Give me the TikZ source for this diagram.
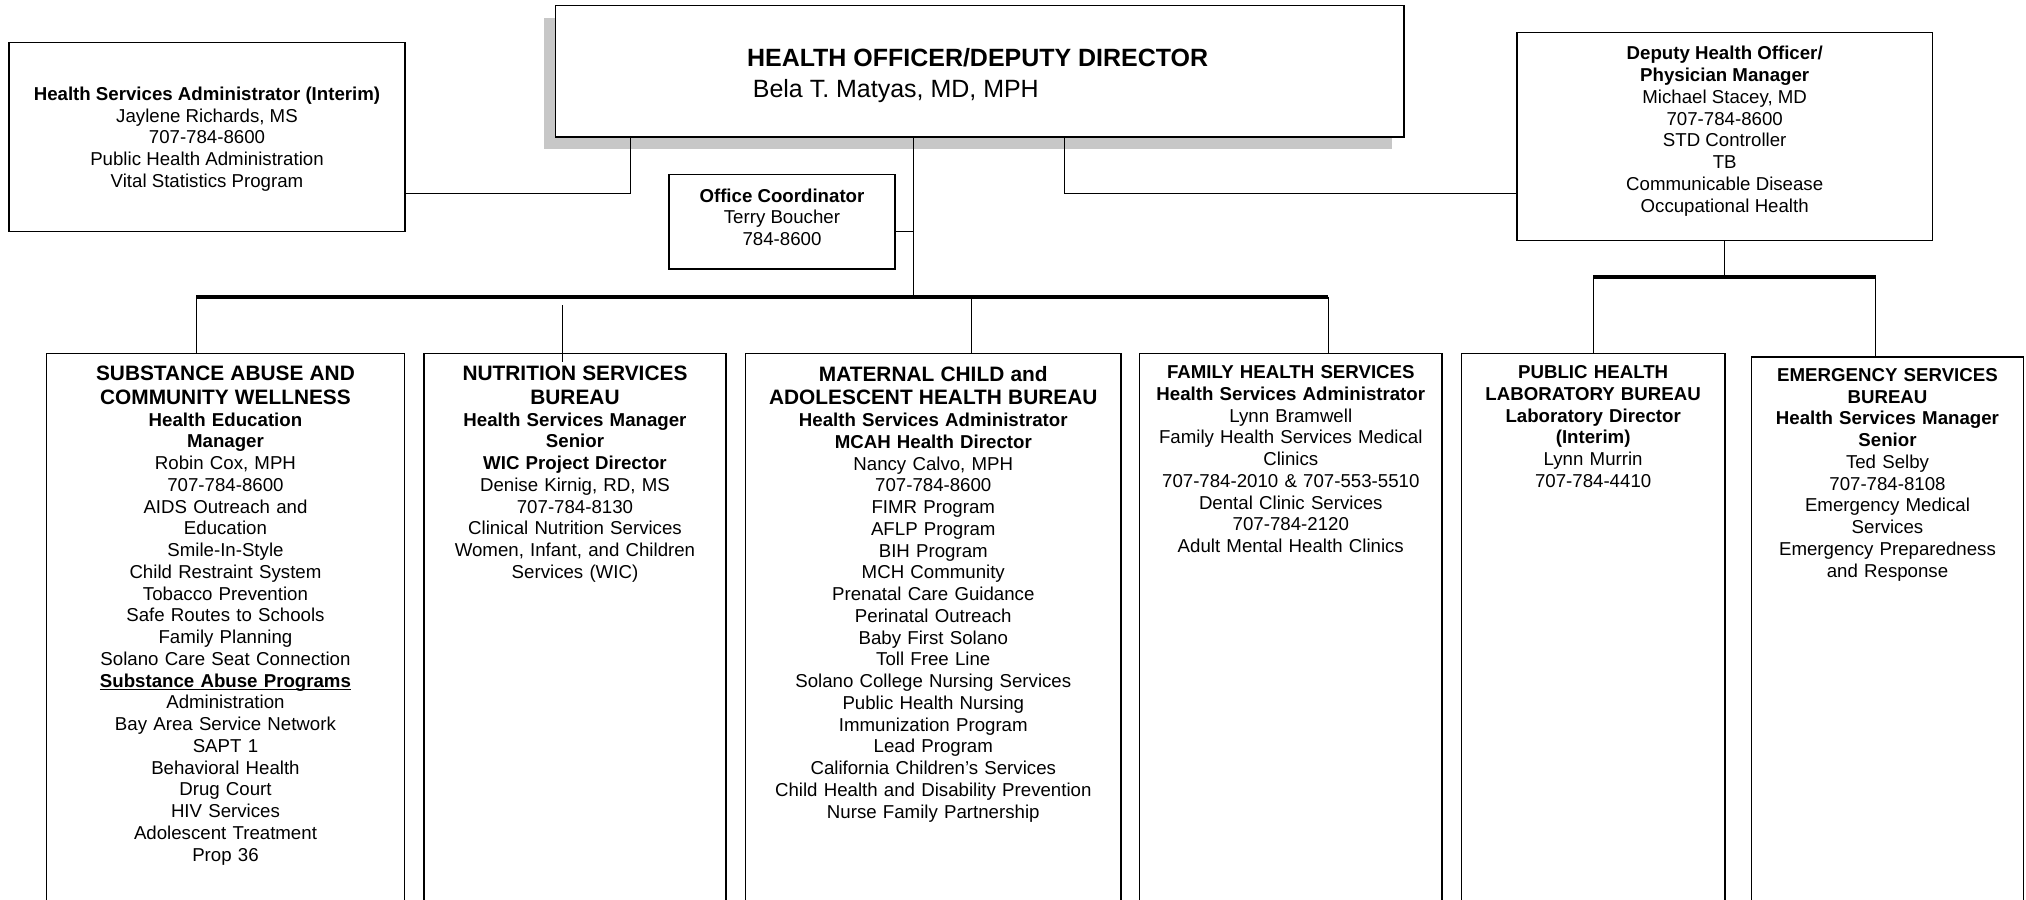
\documentclass[tikz,border=0pt]{standalone}
\usepackage{fontspec}
\setmainfont{Liberation Sans}
\usetikzlibrary{positioning}
\usetikzlibrary{calc}
\usetikzlibrary{shadows}
\tikzset{box/.style={draw, line width=1.2bp, fill=white, inner sep=0pt},
  txt/.style={anchor=north, inner sep=0pt, align=center},
  link/.style={line width=0.9bp},
  trunk/.style={line width=3bp}}
\newcommand{\bdfont}{\fontsize{14.5}{16.9}\selectfont}
\newcommand{\hdfont}{\fontsize{16.2}{18.3}\selectfont\bfseries}
\newsavebox{\ulsbox}
\newcommand{\ulbar}[1]{\leavevmode\sbox{\ulsbox}{#1}\rlap{\rule[-2.6pt]{\wd\ulsbox}{1.3pt}}\usebox{\ulsbox}}
\begin{document}
\begin{tikzpicture}[line join=miter,font=\bdfont]
%%
\useasboundingbox (0bp,0bp) rectangle (1568bp,696bp);
\clip (0bp,0bp) rectangle (1568bp,696bp);
\fill[white] (0bp,0bp) rectangle (1568bp,696bp);
%% upper boxes
  \node (hod) at (758.3bp,640.8bp) [box, minimum width=656.6bp, minimum height=101.6bp, drop shadow={shadow xshift=-9.3bp, shadow yshift=-9.3bp, fill=black!22, opacity=1}] {};
  \node (hsa) at (160.2bp,590bp) [box, minimum width=306.8bp, minimum height=146bp] {};
  \node (oc) at (605.2bp,524.5bp) [box, minimum width=175.1bp, minimum height=73bp] {};
  \node (dep) at (1334.8bp,590.5bp) [box, minimum width=321.6bp, minimum height=161bp] {};
  \node (hod-t) at (578bp,659bp) [anchor=north west, inner sep=0pt, align=left, font=\fontsize{19.4}{24.5}\selectfont] {\textbf{HEALTH OFFICER/DEPUTY DIRECTOR}\\\hspace*{4.5bp}Bela T. Matyas, MD, MPH};
  \node (hsa-t) at (160.2bp,629bp) [txt] {\textbf{Health Services Administrator (Interim)}\\Jaylene Richards, MS\\707-784-8600\\Public Health Administration\\Vital Statistics Program};
  \node (oc-t) at (605.2bp,550.2bp) [txt] {\textbf{Office Coordinator}\\Terry Boucher\\784-8600};
  \node (dep-t) at (1334.8bp,660.4bp) [txt] {\textbf{Deputy Health Officer/}\\\textbf{Physician Manager}\\Michael Stacey, MD\\707-784-8600\\STD Controller\\TB\\Communicable Disease\\Occupational Health};
%% bureaus
  \node (sacw) at (174.5bp,423bp) [box, anchor=north, minimum width=277bp, minimum height=440bp] {};
  \node (nsb) at (445bp,423bp) [box, anchor=north, minimum width=234bp, minimum height=440bp] {};
  \node (mcah) at (722.3bp,423bp) [box, anchor=north, minimum width=290.6bp, minimum height=440bp] {};
  \node (fhs) at (999bp,423bp) [box, anchor=north, minimum width=234bp, minimum height=440bp] {};
  \node (phl) at (1233bp,423bp) [box, anchor=north, minimum width=204bp, minimum height=440bp] {};
  \node (ems) at (1460.8bp,420.5bp) [box, anchor=north, minimum width=210.4bp, minimum height=440bp] {};
  \node (sacw-t) at (174.5bp,412.8bp) [txt, text width=267bp] {{\hdfont SUBSTANCE ABUSE AND\\COMMUNITY WELLNESS\par}\textbf{Health Education\\Manager}\\Robin Cox, MPH\\707-784-8600\\AIDS Outreach and\\Education\\Smile-In-Style\\Child Restraint System\\Tobacco Prevention\\Safe Routes to Schools\\Family Planning\\Solano Care Seat Connection\\\ulbar{\textbf{Substance Abuse Programs}}\\Administration\\Bay Area Service Network\\SAPT 1\\Behavioral Health\\Drug Court\\HIV Services\\Adolescent Treatment\\Prop 36};
  \node (nsb-t) at (445bp,412.8bp) [txt, text width=226bp] {{\hdfont NUTRITION SERVICES\\BUREAU\par}\textbf{Health Services Manager\\Senior\\WIC Project Director}\\Denise Kirnig, RD, MS\\707-784-8130\\Clinical Nutrition Services\\Women, Infant, and Children\\Services (WIC)};
  \node (mcah-t) at (722.3bp,412.8bp) [txt, text width=282bp] {{\hdfont MATERNAL CHILD and\\ADOLESCENT HEALTH BUREAU\par}\textbf{Health Services Administrator\\MCAH Health Director}\\Nancy Calvo, MPH\\707-784-8600\\FIMR Program\\AFLP Program\\BIH Program\\MCH Community\\Prenatal Care Guidance\\Perinatal Outreach\\Baby First Solano\\Toll Free Line\\Solano College Nursing Services\\Public Health Nursing\\Immunization Program\\Lead Program\\California Children’s Services\\Child Health and Disability Prevention\\Nurse Family Partnership};
  \node (fhs-t) at (999bp,413.2bp) [txt, text width=228bp] {\textbf{FAMILY HEALTH SERVICES\\Health Services Administrator}\\Lynn Bramwell\\Family Health Services Medical\\Clinics\\707-784-2010 \& 707-553-5510\\Dental Clinic Services\\707-784-2120\\Adult Mental Health Clinics};
  \node (phl-t) at (1233bp,413.2bp) [txt, text width=198bp] {\textbf{PUBLIC HEALTH\\LABORATORY BUREAU\\Laboratory Director\\(Interim)}\\Lynn Murrin\\707-784-4410};
  \node (ems-t) at (1460.8bp,411.2bp) [txt, text width=204bp] {\textbf{EMERGENCY SERVICES\\BUREAU\\Health Services Manager\\Senior}\\Ted Selby\\707-784-8108\\Emergency Medical\\Services\\Emergency Preparedness\\and Response};
%% connectors
  \coordinate (hsaj) at (487.8bp,546.4bp);
  \coordinate (depj) at (824bp,546.4bp);
  \coordinate (ocj) at (707bp,517bp);
  \draw [link] (hsa.east |- hsaj) -- (hsaj) -- (hsaj |- hod.south);
  \draw [link] (hod.south -| depj) -- (depj) -- (dep.west |- depj);
  \coordinate (b1) at (152bp,466.4bp);
  \coordinate (b2) at (435.5bp,466.4bp);
  \coordinate (b3) at (707bp,466.4bp);
  \coordinate (b4) at (751.7bp,466.4bp);
  \coordinate (b5) at (1028bp,466.4bp);
  \draw [link] (hod.south -| b3) -- (b3);
  \draw [link] (oc.east |- ocj) -- (ocj);
  \draw [trunk] (b1) -- (b5);
  \draw [link] (b1) -- (b1 |- sacw.north);
  \draw [link] ($(b2)+(0,-6.5bp)$) -- ($(b2 |- nsb.north)+(0,-7bp)$);
  \draw [link] (b4) -- (b4 |- mcah.north);
  \draw [link] (b5) -- (b5 |- fhs.north);
  \coordinate (d1) at (1233bp,481.5bp);
  \coordinate (d2) at (1451.7bp,481.5bp);
  \draw [link] (dep.south) -- (dep.south |- d1);
  \draw [trunk] (d1) -- (d2);
  \draw [link] (d1) -- (d1 |- phl.north);
  \draw [link] (d2) -- (d2 |- ems.north);
%
\end{tikzpicture}
\end{document}
